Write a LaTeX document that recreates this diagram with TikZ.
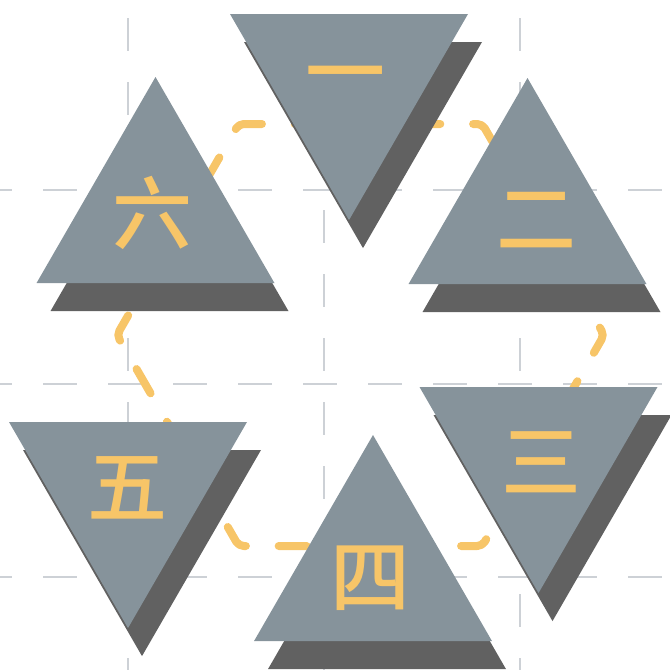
\documentclass[tikz,border=0pt]{standalone}
\usepackage{fontspec}
\IfFontExistsTF{Noto Sans CJK SC Medium}
  {\newfontfamily\cjk{Noto Sans CJK SC Medium}}
  {\newfontfamily\cjk[FakeBold=1.2]{Noto Sans CJK SC}}
\definecolor{tri}{RGB}{134,147,155}
\definecolor{shade}{RGB}{97,97,97}
\definecolor{hexy}{RGB}{247,197,104}
\definecolor{gridc}{RGB}{205,209,214}
\tikzset{
  gridh/.style={draw=gridc, line width=2.6pt, dash pattern=on 34pt off 31pt},
  gridv/.style={draw=gridc, line width=2.6pt, dash pattern=on 33pt off 31pt},
  hexpath/.style={draw=hexy, line width=8pt, line cap=round, line join=round, rounded corners=5pt, dash pattern=on 28pt off 32.8pt, dash phase=14pt},
  trimain/.style={fill=tri},
  trishadow/.style={fill=shade},
  numeral/.style={text=hexy, font=\cjk\fontsize{80}{80}\selectfont, anchor=base, inner sep=0pt}
}
\begin{document}
\begin{tikzpicture}[x=1pt,y=-1pt]
\useasboundingbox (0,0) rectangle (670,670);
% grid
\foreach \gx in {128,324,520} \draw[gridv] (\gx,-46) -- (\gx,700);
\foreach \gy in {190,384,577} \draw[gridh] (-22,\gy) -- (700,\gy);
% hexagon
\coordinate (h0) at (360.5,124);
\coordinate (h1) at (482.3,124);
\coordinate (h2) at (604.1,335);
\coordinate (h3) at (482.3,546);
\coordinate (h4) at (238.7,546);
\coordinate (h5) at (116.9,335);
\coordinate (h6) at (238.7,124);
\draw[hexpath] (h0) -- (h1) -- (h2) -- (h3) -- (h4) -- (h5) -- (h6) -- cycle;
% triangle vertices
\coordinate (a1) at (230,14);    \coordinate (b1) at (468,14);    \coordinate (c1) at (349,220.1);
\coordinate (a2) at (527.5,78);  \coordinate (b2) at (408.5,284.1); \coordinate (c2) at (646.5,284.1);
\coordinate (a3) at (419.5,387); \coordinate (b3) at (657.5,387); \coordinate (c3) at (538.5,593.1);
\coordinate (a4) at (373,435);   \coordinate (b4) at (254,641.1); \coordinate (c4) at (492,641.1);
\coordinate (a5) at (9,422);     \coordinate (b5) at (247,422);   \coordinate (c5) at (128,628.1);
\coordinate (a6) at (155.5,77);  \coordinate (b6) at (36.5,283.1); \coordinate (c6) at (274.5,283.1);
% shadows
\foreach \i in {1,...,6}
  \fill[trishadow] ([shift={(14,28)}]a\i) -- ([shift={(14,28)}]b\i) -- ([shift={(14,28)}]c\i) -- cycle;
% main triangles
\foreach \i in {1,...,6}
  \fill[trimain] (a\i) -- (b\i) -- (c\i) -- cycle;
% numerals
\node[numeral] (n1) at (345,101) {一};
\node[numeral] (n2) at (536,248) {二};
\node[numeral] (n3) at (541,491) {三};
\node[numeral] (n4) at (370,606) {四};
\node[numeral] (n5) at (127,516) {五};
\node[numeral] (n6) at (152,243) {六};
\end{tikzpicture}
\end{document}
